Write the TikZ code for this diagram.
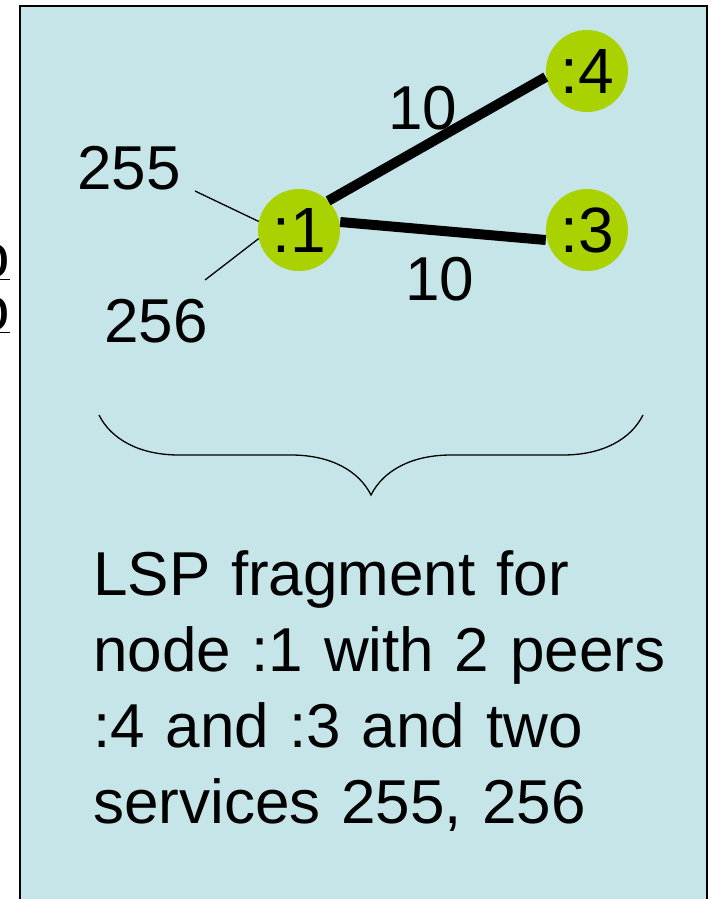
\documentclass[tikz,border=0pt]{standalone}
\usepackage{fontspec}
\setmainfont{Liberation Sans}
\usepackage{tikz}
\usetikzlibrary{positioning, calc}
\usetikzlibrary{decorations.pathreplacing}
\definecolor{slidebg}{RGB}{197,229,232}
\definecolor{peergreen}{RGB}{170,210,0}
\newcommand{\slidefont}{\fontsize{62}{76}\selectfont}

\begin{document}
\begin{tikzpicture}[x=1pt, y=-1pt,
                router/.style = {circle, fill=peergreen, minimum size=82pt, inner sep=0pt, font=\fontsize{64}{76}\selectfont},
                lbl/.style = {inner sep=0pt, font=\slidefont},
                link/.style = {line width=10pt},
                svc/.style = {line width=1.3pt}]
                \useasboundingbox (0,0) rectangle (714,899);
                \draw[fill=slidebg, line width=2pt] (20,6) rectangle (707,912);
                % cut-off text on the left edge
                \node[lbl, anchor=base east] (frA) at (10,277) {\underline{o}};
                \node[lbl, anchor=base east] (frB) at (10,330) {\underline{o}};
                % LSP fragment
                \node[router] (n1) at (299,230) {:1};
                \node[router] (n4) at (587,71) {:4};
                \node[router] (n3) at (587,230) {:3};
                \draw[link] (n1.north east) -- ([yshift=-6pt]n4.west);
                \draw[link] ([yshift=8pt]n1.east) -- ([yshift=-10pt]n3.west);
                \node[lbl] (w14) at (423,108) {10};
                \node[lbl] (w13) at (440,279) {10};
                \coordinate (sA) at (195,191);
                \coordinate (sB) at (205,280);
                \draw[svc] (sA) -- (n1.168);
                \draw[svc] (sB) -- (n1.192);
                \node[lbl] (lA) at (129,168) {255};
                \node[lbl] (lB) at (156,321) {256};
                \coordinate (bl) at (99,415);
                \coordinate (br) at (643,415);
                \draw[decorate,decoration={brace,amplitude=80pt,mirror}, line width=1.3pt] (bl) -- (br);
                \node[lbl, anchor=base west, text width=610pt, align=left] (note) at (93,595)
                    {LSP fragment for\\node :1 with 2 peers\\:4 and :3 and two\\services 255, 256};
            \end{tikzpicture}
\end{document}
